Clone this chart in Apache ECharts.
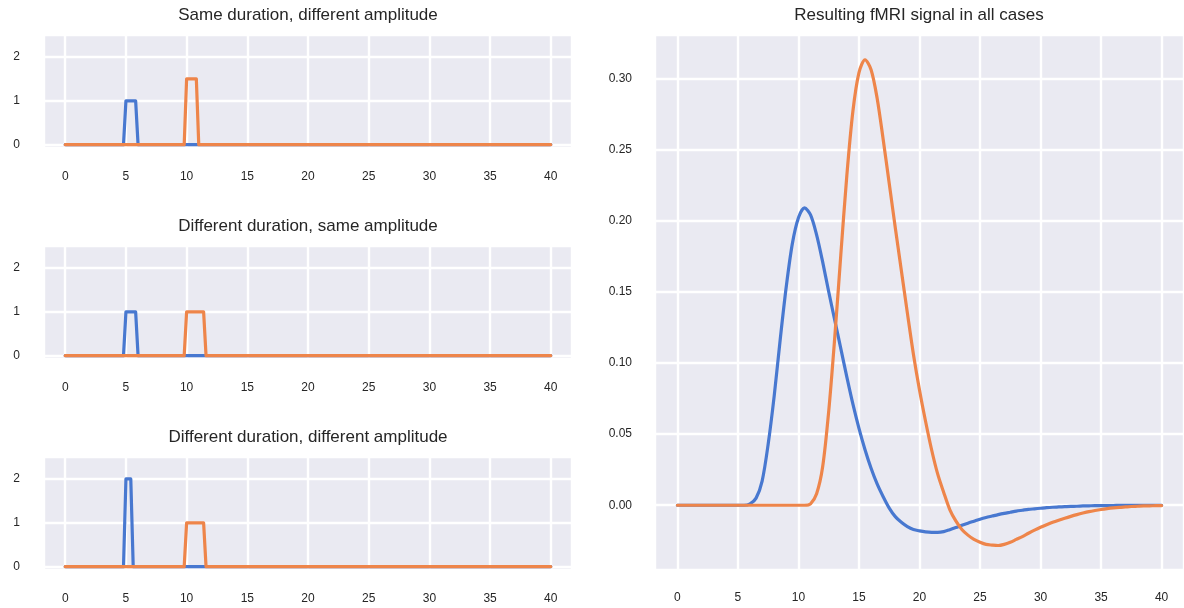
<!DOCTYPE html>
<html>
<head>
<meta charset="utf-8">
<title>fMRI signal</title>
<script src="https://cdn.jsdelivr.net/npm/echarts@6/dist/echarts.min.js"></script>
<style>
    html, body { margin: 0; padding: 0; background: #fff; }
    #tpl-echarts { width: 1184px; height: 608px; }
</style>
</head>
<body>
<div id="tpl-echarts"></div>
<script>
// stimulus trains, [time, amplitude]
var stimSameDurBlue   = [[0, 0], [4.8, 0], [5, 1], [5.8, 1], [6, 0], [40, 0]];
var stimSameDurOrange = [[0, 0], [9.8, 0], [10, 1.5], [10.8, 1.5], [11, 0], [40, 0]];
var stimDiffDurBlue   = [[0, 0], [4.8, 0], [5, 1], [5.8, 1], [6, 0], [40, 0]];
var stimDiffDurOrange = [[0, 0], [9.8, 0], [10, 1], [11.4, 1], [11.6, 0], [40, 0]];
var stimBothBlue      = [[0, 0], [4.8, 0], [5, 2], [5.4, 2], [5.6, 0], [40, 0]];
var stimBothOrange    = [[0, 0], [9.8, 0], [10, 1], [11.4, 1], [11.6, 0], [40, 0]];

// resulting signal, sampled every 0.5 s
var signalTime = [
    0, 0.5, 1, 1.5, 2, 2.5, 3, 3.5, 4, 4.5, 5, 5.5, 6, 6.5, 7, 7.5, 8, 8.5, 9, 9.5,
    10, 10.5, 11, 11.5, 12, 12.5, 13, 13.5, 14, 14.5, 15, 15.5, 16, 16.5, 17, 17.5, 18, 18.5, 19, 19.5,
    20, 20.5, 21, 21.5, 22, 22.5, 23, 23.5, 24, 24.5, 25, 25.5, 26, 26.5, 27, 27.5, 28, 28.5, 29, 29.5,
    30, 30.5, 31, 31.5, 32, 32.5, 33, 33.5, 34, 34.5, 35, 35.5, 36, 36.5, 37, 37.5, 38, 38.5, 39, 39.5, 40
];
var signalBlue = [
    0, 0, 0, 0, 0, 0, 0, 0, 0, 0, 0, 0, 0.001, 0.005, 0.017, 0.043, 0.077, 0.117, 0.154, 0.184,
    0.202, 0.209, 0.204, 0.190, 0.171, 0.150, 0.130, 0.110, 0.090, 0.071, 0.054, 0.039, 0.026, 0.015, 0.006, -0.002, -0.008, -0.012, -0.015, -0.017,
    -0.018, -0.0187, -0.019, -0.019, -0.0185, -0.0172, -0.0157, -0.0141, -0.0126, -0.0112, -0.0098, -0.0086, -0.0076, -0.0066, -0.0057, -0.0049, -0.0041, -0.0035, -0.0029, -0.0025,
    -0.0021, -0.0017, -0.0014, -0.0012, -0.001, -0.0008, -0.0007, -0.0005, -0.0004, -0.0003, -0.0003, -0.0002, -0.0002, -0.0001, -0.0001, -0.0001, -0.0001, 0, 0, 0, 0
];
var signalOrange = [
    0, 0, 0, 0, 0, 0, 0, 0, 0, 0, 0, 0, 0, 0, 0, 0, 0, 0, 0, 0,
    0, 0, 0.001, 0.008, 0.027, 0.066, 0.118, 0.176, 0.232, 0.277, 0.304, 0.313, 0.306, 0.286, 0.257, 0.226, 0.195, 0.165, 0.135, 0.106,
    0.081, 0.059, 0.039, 0.022, 0.009, -0.003, -0.011, -0.017, -0.021, -0.024, -0.026, -0.0275, -0.028, -0.0283, -0.0275, -0.026, -0.024, -0.022, -0.0197, -0.0175,
    -0.0155, -0.0137, -0.012, -0.0105, -0.0091, -0.0078, -0.0066, -0.0055, -0.0045, -0.0037, -0.003, -0.0024, -0.0019, -0.0015, -0.0012, -0.0009, -0.0007, -0.0005, -0.0004, -0.0003, -0.0002
];

var panelTitles = [
    'Same duration, different amplitude',
    'Different duration, same amplitude',
    'Different duration, different amplitude',
    'Resulting fMRI signal in all cases'
];

var BLUE = '#4878D0';
var ORANGE = '#EE854A';
var TEXT = '#262626';
var FONT = '"Liberation Sans", Arial, sans-serif';

window.onload = function () {
    chartData();
};

function zip(xs, ys) {
    var out = [];
    for (var i = 0; i < xs.length; i++) {
        out.push([xs[i], ys[i]]);
    }
    return out;
}

function valueAxis(gridIndex, min, max, split, extra) {
    var ax = {
        type: 'value',
        gridIndex: gridIndex,
        min: min,
        max: max,
        splitNumber: split,
        axisLine: { show: false },
        axisTick: { show: false },
        splitLine: { show: true, lineStyle: { color: '#ffffff', width: 2.4 } },
        axisLabel: {
            color: TEXT,
            fontSize: 12,
            fontFamily: FONT,
            showMinLabel: false,
            showMaxLabel: false
        }
    };
    for (var k in extra) {
        if (k === 'axisLabel') {
            for (var j in extra[k]) ax.axisLabel[j] = extra[k][j];
        } else {
            ax[k] = extra[k];
        }
    }
    return ax;
}

function lineSeries(idx, data, color, smooth) {
    return {
        type: 'line',
        xAxisIndex: idx,
        yAxisIndex: idx,
        data: data,
        smooth: smooth,
        showSymbol: false,
        symbol: 'none',
        lineStyle: { color: color, width: 3.2, join: 'round', cap: 'round' },
        itemStyle: { color: color },
        z: 3
    };
}

function chartData() {
    var chart = echarts.init(document.getElementById('tpl-echarts'));

    var bg = '#EAEAF2';
    var leftTops = [35, 246, 457];
    var grids = [];
    var xAxes = [];
    var yAxes = [];
    for (var i = 0; i < 3; i++) {
        grids.push({
            left: 44, width: 528, top: leftTops[i], height: 113,
            show: true, backgroundColor: bg, borderWidth: 0
        });
        xAxes.push(valueAxis(i, -1.75, 41.75, 8, { axisLabel: { margin: 23 } }));
        yAxes.push(valueAxis(i, -0.075, 2.5, 3, { axisLabel: { margin: 24 } }));
    }
    grids.push({
        left: 655, right: 0, top: 35, bottom: 38,
        show: true, backgroundColor: bg, borderWidth: 0
    });
    xAxes.push(valueAxis(3, -1.85, 41.85, 8, { axisLabel: { margin: 22 } }));
    yAxes.push(valueAxis(3, -0.0455, 0.3304, 8, {
        axisLabel: {
            margin: 23,
            formatter: function (v) { return v.toFixed(2); }
        }
    }));

    var titleCenters = [[308, 15], [308, 226], [308, 437], [919, 15]];
    var graphics = [];
    for (var t = 0; t < panelTitles.length; t++) {
        graphics.push({
            type: 'text',
            x: titleCenters[t][0],
            y: titleCenters[t][1],
            style: {
                text: panelTitles[t],
                align: 'center',
                verticalAlign: 'middle',
                fontSize: 17,
                fontFamily: FONT,
                fill: TEXT
            }
        });
    }

    var option = {
        animation: false,
        backgroundColor: '#ffffff',
        grid: grids,
        xAxis: xAxes,
        yAxis: yAxes,
        graphic: graphics,
        series: [
            lineSeries(0, stimSameDurBlue, BLUE, false),
            lineSeries(0, stimSameDurOrange, ORANGE, false),
            lineSeries(1, stimDiffDurBlue, BLUE, false),
            lineSeries(1, stimDiffDurOrange, ORANGE, false),
            lineSeries(2, stimBothBlue, BLUE, false),
            lineSeries(2, stimBothOrange, ORANGE, false),
            lineSeries(3, zip(signalTime, signalBlue), BLUE, 0.3),
            lineSeries(3, zip(signalTime, signalOrange), ORANGE, 0.3)
        ]
    };

    chart.setOption(option);
}
</script>
</body>
</html>
